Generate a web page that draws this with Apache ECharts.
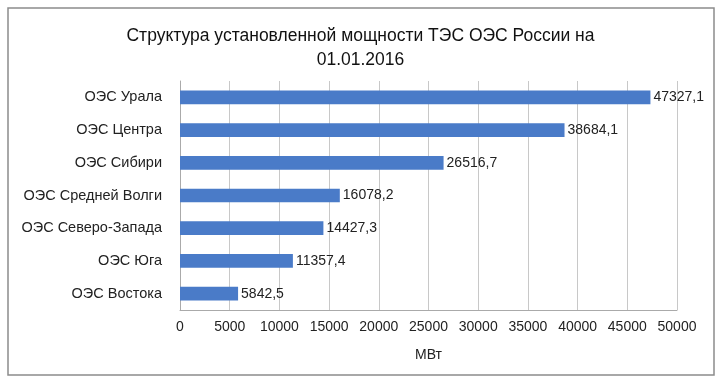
<!DOCTYPE html>
<html><head><meta charset="utf-8">
<script src="https://cdn.jsdelivr.net/npm/echarts@6/dist/echarts.min.js"></script>
<style>html,body{margin:0;padding:0;background:#fff}#c{width:721px;height:385px}</style>
</head><body><div id="c"></div>
<script>
var categories = ['ОЭС Востока','ОЭС Юга','ОЭС Северо-Запада','ОЭС Средней Волги','ОЭС Сибири','ОЭС Центра','ОЭС Урала'];
var values = [5842.5, 11357.4, 14427.3, 16078.2, 26516.7, 38684.1, 47327.1];
var titleText = 'Структура установленной мощности ТЭС ОЭС России на\n01.01.2016';
var axisName = 'МВт';

var chart = echarts.init(document.getElementById('c'));
var font = 'Liberation Sans, Arial, sans-serif';
chart.setOption({
  animation: false,
  graphic: [{type:'rect', shape:{x:8,y:8,width:706,height:367}, style:{fill:'none', stroke:'#8c8c8c', lineWidth:1.5}, silent:true}],
  title: {text: titleText, left: 'center', top: 19, textStyle:{fontFamily:font, fontSize:17.5, fontWeight:'normal', color:'#111', lineHeight:24}},
  grid: {left:180, right:44, top:81, bottom:75},
  xAxis: {type:'value', min:0, max:50000, interval:5000,
    name: axisName, nameLocation:'middle', nameGap:38,
    nameTextStyle:{fontFamily:font, fontSize:14, color:'#222'},
    axisLine:{show:true, lineStyle:{color:'#aaa'}}, axisTick:{show:false},
    axisLabel:{fontFamily:font, fontSize:14, color:'#222', margin:10, formatter:function(v){return String(v);}},
    splitLine:{show:true, lineStyle:{color:'#c8c8c8'}}},
  yAxis: {type:'category', data:categories,
    axisLine:{show:true, lineStyle:{color:'#aaa'}}, axisTick:{show:false},
    axisLabel:{fontFamily:font, fontSize:14.5, color:'#222', margin:18}},
  series: [{type:'bar', data:values, barWidth:'42%', itemStyle:{color:'#4a7bc8'},
    label:{show:true, position:'right', distance:3, fontFamily:font, fontSize:14, color:'#222',
      formatter:function(p){return String(p.value).replace('.',',');}}}]
});
</script></body></html>
